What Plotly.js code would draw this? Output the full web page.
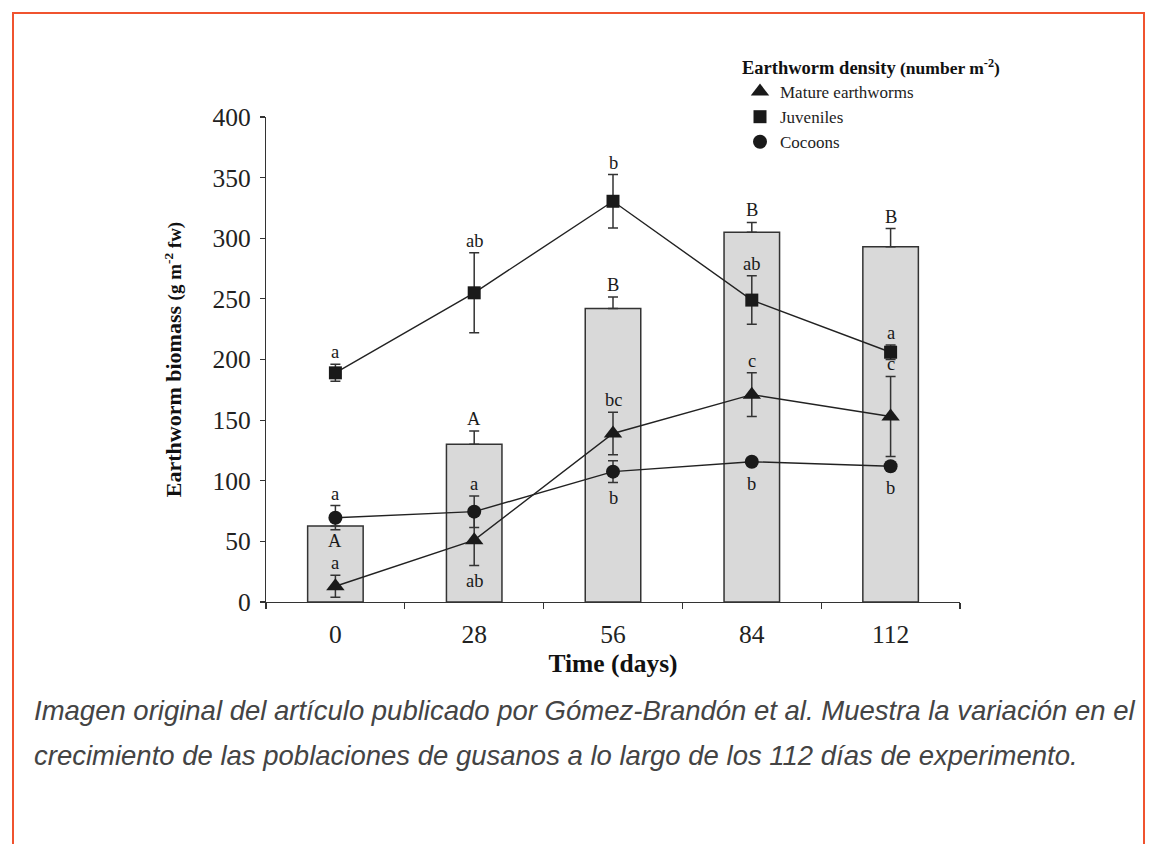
<!DOCTYPE html>
<html>
<head>
<meta charset="utf-8">
<script src="https://cdn.plot.ly/plotly-3.0.1.min.js"></script>
<style>
  html, body { margin: 0; padding: 0; background: #fff; }
  #wrap { position: relative; width: 1154px; height: 844px; overflow: hidden; }
  #frame { position: absolute; left: 12px; top: 12px; width: 1129px; height: 900px;
           border: 2px solid #f0532f; border-bottom: none; }
  #chart { position: absolute; left: 0; top: 0; width: 1154px; height: 844px; }
  #caption { position: absolute; left: 34px; top: 688px; width: 1110px;
             font-family: "Liberation Sans", Arial, sans-serif; font-style: italic;
             font-size: 27.5px; line-height: 45px; color: #444; white-space: nowrap; }
</style>
</head>
<body>
<div id="wrap">
  <div id="frame"></div>
  <div id="chart"></div>
  <div id="caption">Imagen original del artículo publicado por Gómez-Brandón et al. Muestra la variación en el<br>crecimiento de las poblaciones de gusanos a lo largo de los 112 días de experimento.</div>
</div>
<script>
// ---- data ----
const days = ["0", "28", "56", "84", "112"];

// total biomass (bars)
const biomass      = [62.7, 130, 242, 305, 293];
const biomassErr   = [4, 11, 9.5, 8, 15];
const biomassLetters = ["A", "A", "B", "B", "B"];
const biomassLetterPos = ["inside", "above", "above", "above", "above"];

// density series
const matureVals  = [13, 51, 139, 171, 153];
const matureErr   = [9, 21, 17.5, 18, 33];
const matureLetters = ["a", "ab", "bc", "c", "c"];
const matureLetterPos = ["above", "below", "above", "above", "above"];

const juvenileVals = [189, 255, 330.5, 249, 206];
const juvenileErr  = [7, 33, 22, 20, 6];
const juvenileLetters = ["a", "ab", "b", "ab", "a"];
const juvenileLetterPos = ["above", "above", "above", "above", "above"];

const cocoonVals = [69.5, 74.5, 107.5, 115.7, 112];
const cocoonErr  = [10, 13, 9, 3, 3];
const cocoonLetters = ["a", "a", "b", "b", "b"];
const cocoonLetterPos = ["above", "above", "below", "below", "below"];

const yTicks = [0, 50, 100, 150, 200, 250, 300, 350, 400];

// ---- styling ----
const serif = '"Liberation Serif", "Times New Roman", serif';
const ink = '#1a1a1a';
const axisInk = '#333';
const W = 1154, H = 844;
const M = {l: 266, r: 194, t: 117, b: 242};
const plotH = H - M.t - M.b;
const pxPerUnit = plotH / 400;

const series = [
  {name: 'Mature earthworms', y: matureVals, err: matureErr, letters: matureLetters, pos: matureLetterPos, symbol: 'triangle-up', size: 16, r: 8},
  {name: 'Juveniles', y: juvenileVals, err: juvenileErr, letters: juvenileLetters, pos: juvenileLetterPos, symbol: 'square', size: 13, r: 7},
  {name: 'Cocoons', y: cocoonVals, err: cocoonErr, letters: cocoonLetters, pos: cocoonLetterPos, symbol: 'circle', size: 14, r: 7}
];

const traces = [];
traces.push({
  type: 'bar', x: days, y: biomass, width: 0.4, showlegend: false,
  marker: {color: '#d9d9d9', line: {color: axisInk, width: 1.5}},
  error_y: {type: 'data', symmetric: false, array: biomassErr, arrayminus: biomassErr.map(() => 0),
            color: axisInk, thickness: 1.5, width: 5},
  hoverinfo: 'skip'
});
series.forEach(s => {
  traces.push({type: 'scatter', mode: 'lines', x: days, y: s.y, showlegend: false,
               line: {color: '#222', width: 1.4}, hoverinfo: 'skip'});
});
series.forEach(s => {
  traces.push({type: 'scatter', mode: 'markers', name: s.name, x: days, y: s.y,
               marker: {symbol: s.symbol, size: s.size, color: ink},
               error_y: {type: 'data', array: s.err, color: axisInk, thickness: 1.5, width: 5}});
});

const annotations = [];
const letterFont = {family: serif, size: 18.5, color: '#1a1a1a'};
function addLetter(xi, yval, errv, r, text, pos) {
  const off = Math.max(errv * pxPerUnit, r);
  const base = {x: xi, y: yval, xref: 'x', yref: 'y', text: text, showarrow: false, font: letterFont};
  if (pos === 'above') {
    annotations.push(Object.assign(base, {yanchor: 'bottom', yshift: off}));
  } else if (pos === 'below') {
    annotations.push(Object.assign(base, {yanchor: 'top', yshift: -(off + 3)}));
  } else {
    annotations.push(Object.assign(base, {yanchor: 'top', yshift: -3}));
  }
}
days.forEach((d, i) => {
  // category index i is used for annotation placement on the category axis
  addLetter(i, biomass[i], biomassLetterPos[i] === 'inside' ? 0 : biomassErr[i], 0, biomassLetters[i], biomassLetterPos[i]);
  series.forEach(s => addLetter(i, s.y[i], s.err[i], s.r, s.letters[i], s.pos[i]));
});

const layout = {
  width: W, height: H,
  margin: M,
  paper_bgcolor: 'rgba(0,0,0,0)', plot_bgcolor: 'rgba(0,0,0,0)',
  font: {family: serif, color: '#222'},
  showlegend: true,
  legend: {
    x: (740 - M.l) / (W - M.l - M.r), y: (H - M.b - 50) / plotH,
    xanchor: 'left', yanchor: 'top',
    font: {family: serif, size: 17, color: '#222'},
    title: {text: '<b>Earthworm density</b><b><span style="font-size:17.5px"> (number m<sup>-2</sup>)</span></b>',
            font: {family: serif, size: 18.5, color: '#111'}},
    tracegroupgap: 0, itemsizing: 'trace', bgcolor: 'rgba(0,0,0,0)'
  },
  xaxis: {
    type: 'category', range: [-0.5, 4.5], tickson: 'boundaries',
    ticks: 'outside', ticklen: 6, tickwidth: 1.2, tickcolor: axisInk,
    showline: true, linecolor: axisInk, linewidth: 1.2,
    showgrid: false, zeroline: false,
    tickfont: {family: serif, size: 25.5, color: '#222'}, ticklabelstandoff: 9,
    title: {text: '<b>Time (days)</b>', font: {family: serif, size: 25.5, color: '#111'}, standoff: 6}
  },
  yaxis: {
    range: [0, 400], tickvals: yTicks, ticktext: yTicks.map(String),
    ticks: 'outside', ticklen: 5, tickwidth: 1.2, tickcolor: axisInk,
    showline: true, linecolor: axisInk, linewidth: 1.2,
    showgrid: false, zeroline: false,
    tickfont: {family: serif, size: 25.5, color: '#222'}, ticklabelstandoff: 4,
    title: {text: '<b>Earthworm biomass <span style="font-size:19px">(g m<sup>-2</sup> fw)</span></b>',
            font: {family: serif, size: 22, color: '#111'}, standoff: 24}
  },
  annotations: annotations
};

Plotly.newPlot('chart', traces, layout, {staticPlot: true, displayModeBar: false});
</script>
</body>
</html>
